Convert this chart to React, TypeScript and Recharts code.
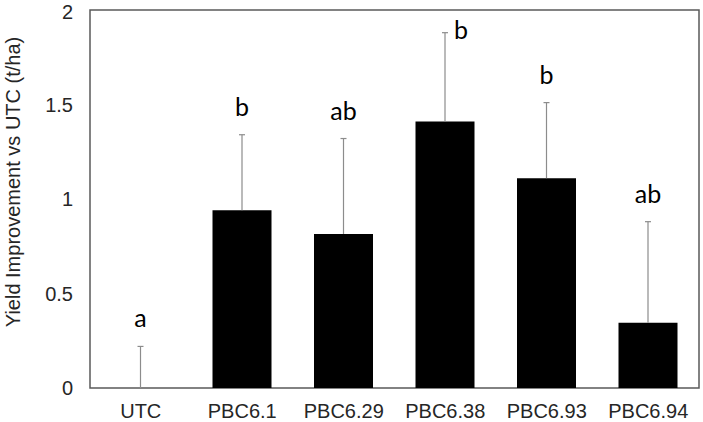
import { BarChart, Bar, XAxis, YAxis, ReferenceArea, LabelList } from "recharts";

const treatments = ["UTC", "PBC6.1", "PBC6.29", "PBC6.38", "PBC6.93", "PBC6.94"];
const improvement = [0, 0.94, 0.815, 1.41, 1.11, 0.345];
const stdError = [0.22, 0.4, 0.505, 0.47, 0.4, 0.535];
const letters = ["a", "b", "ab", "b", "b", "ab"];
const yTicks = [0, 0.5, 1, 1.5, 2];

const data = treatments.map((name, i) => ({
  name,
  value: improvement[i],
  err: stdError[i],
  letter: letters[i],
}));

const AXIS_FONT = "Arial, 'Liberation Sans', sans-serif";

const ErrorShape = (props: any) => {
  const { x, y, width, height } = props;
  const cx = x + width / 2;
  return (
    <g>
      <line x1={cx} y1={y} x2={cx} y2={y + height} stroke="#8c8c8c" strokeWidth={1.2} />
      <line x1={cx - 3} y1={y} x2={cx + 3} y2={y} stroke="#8c8c8c" strokeWidth={1.2} />
    </g>
  );
};

const LetterLabel = (props: any) => {
  const { x, y, width, value } = props;
  const cx = x + width / 2;
  // no room above the tallest bar, so the letter sits beside its cap
  const beside = y < 45;
  return (
    <text
      x={beside ? cx + 9 : cx}
      y={beside ? y + 6 : y - 19}
      textAnchor={beside ? "start" : "middle"}
      fontFamily="Lato, sans-serif"
      fontSize={25}
      fill="#000"
    >
      {value}
    </text>
  );
};

const YTitle = (props: any) => {
  const { viewBox } = props;
  const x = viewBox.x + 13;
  const y = viewBox.y + viewBox.height / 2 - 17;
  return (
    <text
      x={x}
      y={y}
      transform={`rotate(-90, ${x}, ${y})`}
      textAnchor="middle"
      dominantBaseline="central"
      fontFamily={AXIS_FONT}
      fontSize={20}
      fill="#262626"
    >
      Yield Improvement vs UTC (t/ha)
    </text>
  );
};

export default function App() {
  return (
    <div style={{ position: "absolute", left: 0, top: 0, background: "#fff" }}>
      <BarChart width={703} height={422} data={data} margin={{ top: 10, right: 4, bottom: 0, left: 0 }}>
        <XAxis
          dataKey="name"
          height={34}
          axisLine={false}
          tickLine={false}
          tickSize={0}
          tickMargin={16}
          interval={0}
          tick={{ fill: "#262626", fontSize: 20, fontFamily: AXIS_FONT }}
        />
        <YAxis
          width={90}
          domain={[0, 2]}
          ticks={yTicks}
          axisLine={false}
          tickLine={false}
          tickSize={0}
          tickMargin={17}
          tick={{ fill: "#262626", fontSize: 20, fontFamily: AXIS_FONT }}
          label={<YTitle />}
        />
        <Bar dataKey="value" stackId="s" fill="#000" barSize={59} isAnimationActive={false} />
        <Bar dataKey="err" stackId="s" fill="none" barSize={59} shape={ErrorShape} isAnimationActive={false}>
          <LabelList dataKey="letter" content={LetterLabel} />
        </Bar>
        <ReferenceArea y1={0} y2={2} fill="none" stroke="#595959" strokeWidth={1.5} />
      </BarChart>
    </div>
  );
}
